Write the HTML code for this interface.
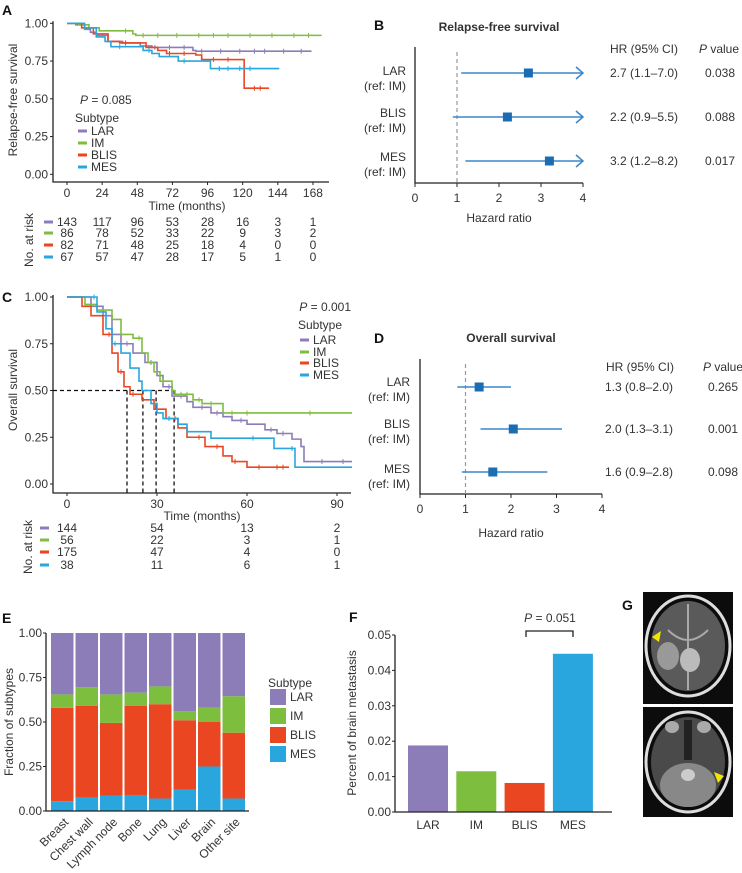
<!DOCTYPE html>
<html><head><meta charset="utf-8">
<style>
body{margin:0;background:#fff}
svg{display:block;font-family:"Liberation Sans",sans-serif;fill:#333}
text{font-size:12px;fill:#333;dominant-baseline:central}
.ttl{font-weight:bold;font-size:12px}
.lbl{font-weight:bold;font-size:14px;fill:#111}
</style></head>
<body>
<svg id="fig" width="742" height="873" viewBox="0 0 742 873" xmlns="http://www.w3.org/2000/svg">
<g id="gA">
<text class="lbl" x="2" y="10">A</text>
<text x="0" y="0" transform="translate(13,100) rotate(-90)" text-anchor="middle">Relapse-free survival</text>
<text x="187" y="206" text-anchor="middle">Time (months)</text>
<text x="0" y="0" transform="translate(29,240) rotate(-90)" text-anchor="middle">No. at risk</text>
<text x="80" y="100"><tspan font-style="italic">P</tspan> = 0.085</text>
<text x="75" y="118">Subtype</text>
</g>
<g id="gB">
<text class="lbl" x="374" y="25">B</text>
<text class="ttl" x="499" y="27" text-anchor="middle">Relapse-free survival</text>
<text x="644" y="49" text-anchor="middle">HR (95% CI)</text>
<text x="719" y="49" text-anchor="middle"><tspan font-style="italic">P</tspan> value</text>
<text x="499" y="218" text-anchor="middle">Hazard ratio</text>
</g>
<g id="gC">
<text class="lbl" x="2" y="297">C</text>
<text x="0" y="0" transform="translate(13,390) rotate(-90)" text-anchor="middle">Overall survival</text>
<text x="202" y="516" text-anchor="middle">Time (months)</text>
<text x="0" y="0" transform="translate(28,547) rotate(-90)" text-anchor="middle">No. at risk</text>
<text x="351" y="307" text-anchor="end"><tspan font-style="italic">P</tspan> = 0.001</text>
<text x="298" y="325">Subtype</text>
</g>
<g id="gD">
<text class="lbl" x="374" y="338">D</text>
<text class="ttl" x="511" y="338" text-anchor="middle">Overall survival</text>
<text x="640" y="367" text-anchor="middle">HR (95% CI)</text>
<text x="723" y="367" text-anchor="middle"><tspan font-style="italic">P</tspan> value</text>
<text x="511" y="533" text-anchor="middle">Hazard ratio</text>
</g>
<g id="gE">
<text class="lbl" x="2" y="618">E</text>
<text x="0" y="0" transform="translate(9,722) rotate(-90)" text-anchor="middle">Fraction of subtypes</text>
<text x="268" y="683" font-size="12.5">Subtype</text>
</g>
<g id="gF">
<text class="lbl" x="349" y="617">F</text>
<text x="0" y="0" transform="translate(352,723) rotate(-90)" text-anchor="middle">Percent of brain metastasis</text>
<text x="550" y="618" text-anchor="middle"><tspan font-style="italic">P</tspan> = 0.051</text>
<path d="M526,637 V631 H573 V637" fill="none" stroke="#222" stroke-width="1.3"/>
</g>
<g id="gG">
<text class="lbl" x="622" y="605">G</text>
<g>
<rect x="643" y="592" width="90" height="112" fill="#0c0c0c"/>
<ellipse cx="688" cy="646" rx="42" ry="50" fill="none" stroke="#ddd" stroke-width="3"/>
<ellipse cx="688" cy="646" rx="37" ry="45" fill="#5a5a5a"/>
<path d="M688,604 V690 M668,630 q20,20 40,0" stroke="#aaa" stroke-width="2" fill="none"/>
<ellipse cx="668" cy="656" rx="11" ry="14" fill="#999"/>
<ellipse cx="690" cy="660" rx="10" ry="12" fill="#bbb"/>
<path d="M652,637 l9,-6 l-2,11 z" fill="#f2e600"/>
</g>
<g>
<rect x="643" y="707" width="90" height="110" fill="#0c0c0c"/>
<ellipse cx="688" cy="762" rx="42" ry="50" fill="none" stroke="#ddd" stroke-width="3"/>
<ellipse cx="688" cy="762" rx="37" ry="45" fill="#4a4a4a"/>
<ellipse cx="688" cy="785" rx="28" ry="22" fill="#888"/>
<ellipse cx="688" cy="775" rx="7" ry="6" fill="#ccc"/>
<path d="M688,720 V760" stroke="#222" stroke-width="8"/>
<ellipse cx="672" cy="727" rx="7" ry="6" fill="#aaa"/>
<ellipse cx="704" cy="727" rx="7" ry="6" fill="#aaa"/>
<path d="M724,776 l-10,-4 l4,11 z" fill="#f2e600"/>
</g>
</g>
</svg>
<script>
const subtypes = ["LAR","IM","BLIS","MES"];
const colors = {LAR:"#8c7db8", IM:"#7dbe3f", BLIS:"#ea4621", MES:"#29a6de"};
// Panel A relapse-free survival [month, survival]
const rfsLAR = [[0,1],[6,0.99],[12,0.96],[16,0.94],[20,0.92],[28,0.88],[38,0.87],[50,0.85],[58,0.84],[86,0.82],[88,0.815]];
const rfsIM = [[0,1],[8,0.99],[15,0.97],[22,0.95],[45,0.93],[47,0.92]];
const rfsBLIS = [[0,1],[10,0.97],[18,0.93],[28,0.88],[36,0.87],[54,0.84],[62,0.82],[68,0.80],[88,0.79],[92,0.76],[121,0.57]];
const rfsMES = [[0,1],[12,0.97],[20,0.91],[26,0.88],[30,0.845],[52,0.82],[58,0.80],[63,0.78],[76,0.75],[98,0.70]];
const rfsEnd = {LAR:167, IM:174, BLIS:138, MES:145};
const rfsCensor = {LAR:[40,60,70,80,92,105,118,128,135,148,160], IM:[40,52,62,75,90,100,110,125,140,155,165], BLIS:[40,70,80,100,110,128,132], MES:[36,56,80,104,110,118,125]};
const rfsTicks = [0,24,48,72,96,120,144,168];
const rfsRisk = {LAR:[143,117,96,53,28,16,3,1], IM:[86,78,52,33,22,9,3,2], BLIS:[82,71,48,25,18,4,0,0], MES:[67,57,47,28,17,5,1,0]};
// Panel C overall survival
const osLAR = [[0,1],[8,0.95],[12,0.9],[15,0.8],[18,0.75],[22,0.7],[26,0.65],[30,0.58],[32,0.52],[35,0.47],[40,0.44],[42,0.41],[48,0.38],[52,0.36],[55,0.34],[60,0.32],[66,0.29],[70,0.27],[75,0.24],[78,0.2],[79,0.12]];
const osIM = [[0,1],[6,0.96],[10,0.93],[15,0.88],[18,0.8],[22,0.78],[25,0.7],[27,0.65],[29,0.6],[31,0.55],[35,0.5],[36,0.48],[42,0.45],[45,0.43],[52,0.38]];
const osBLIS = [[0,1],[5,0.95],[8,0.9],[12,0.8],[15,0.7],[17,0.6],[19,0.52],[21,0.48],[25,0.45],[29,0.4],[33,0.35],[37,0.3],[40,0.25],[46,0.2],[52,0.15],[55,0.12],[60,0.09]];
const osMES = [[0,1],[10,0.92],[13,0.83],[15,0.75],[18,0.7],[21,0.62],[24,0.55],[25,0.5],[28,0.43],[30,0.38],[32,0.35],[37,0.32],[40,0.28],[48,0.245],[69,0.19],[76,0.09]];
const osEnd = {LAR:95, IM:95, BLIS:74, MES:95};
const osCensor = {LAR:[20,28,34,38,45,50,58,68,72,85,92], IM:[24,32,38,40,44,48,55,60,81], BLIS:[14,18,22,30,36,44,50,56,64,70,72], MES:[9,16,34,62,75]};
const osMedians = [20,25.3,29.7,35.7];
const osTicks = [0,30,60,90];
const osRisk = {LAR:[144,54,13,2], IM:[56,22,3,1], BLIS:[175,47,4,0], MES:[38,11,6,1]};
// Panel B / D forest
const forestRows = ["LAR","BLIS","MES"];
const rfsHR = [2.7,2.2,3.2];
const rfsLo = [1.1,0.9,1.2];
const rfsHi = [7.0,5.5,8.2];
const rfsHRtxt = ["2.7 (1.1–7.0)","2.2 (0.9–5.5)","3.2 (1.2–8.2)"];
const rfsP = ["0.038","0.088","0.017"];
const osHR = [1.3,2.05,1.6];
const osLo = [0.82,1.33,0.92];
const osHi = [2.0,3.12,2.8];
const osHRtxt = ["1.3 (0.8–2.0)","2.0 (1.3–3.1)","1.6 (0.9–2.8)"];
const osP = ["0.265","0.001","0.098"];
const hrTicks = [0,1,2,3,4];
// Panel E stacked fractions
const sites = ["Breast","Chest wall","Lymph node","Bone","Lung","Liver","Brain","Other site"];
const fracMES = [0.055,0.075,0.085,0.09,0.07,0.12,0.25,0.07];
const fracBLIS = [0.525,0.515,0.41,0.50,0.53,0.39,0.25,0.37];
const fracIM = [0.075,0.105,0.16,0.075,0.10,0.05,0.08,0.205];
const fracLAR = [0.345,0.305,0.345,0.335,0.30,0.44,0.42,0.355];
const fracTicks = [0,0.25,0.5,0.75,1];
// Panel F
const brainPct = [0.0188,0.0115,0.0082,0.0447];
const brainTicks = [0,0.01,0.02,0.03,0.04,0.05];

const NS="http://www.w3.org/2000/svg";
function mk(tag, attrs, parent){const e=document.createElementNS(NS,tag);for(const k in attrs)e.setAttribute(k,attrs[k]);parent.appendChild(e);return e;}
function txt(s, attrs, parent){const e=mk("text",attrs,parent);e.textContent=s;return e;}
function stepPath(pts,end,xf,yf){let d="M"+xf(pts[0][0])+","+yf(pts[0][1]);for(let i=1;i<pts.length;i++){d+=" H"+xf(pts[i][0])+" V"+yf(pts[i][1]);}d+=" H"+xf(end);return d;}
function sAt(pts,t){let s=pts[0][1];for(const p of pts){if(p[0]<=t)s=p[1];}return s;}

function km(g, cfg){
  const xf=t=>cfg.x0+t*cfg.px, yf=s=>cfg.y0-s*cfg.py;
  const ax=mk("path",{d:`M${cfg.ax},${yf(1)-2} V${cfg.axY} H${cfg.axR}`,fill:"none",stroke:"#222","stroke-width":1.3},g);
  
  
  [0,0.25,0.5,0.75,1].forEach(v=>{
    const tk=mk("line",{x1:cfg.ax-3,x2:cfg.ax,y1:yf(v),y2:yf(v),stroke:"#222"},g);
    
    
    const tl=txt(v.toFixed(2),{x:cfg.ax-5,y:yf(v),"text-anchor":"end"},g);
    
    
  });
  cfg.ticks.forEach(t=>{
    const tk=mk("line",{x1:xf(t),x2:xf(t),y1:cfg.axY,y2:cfg.axY+3,stroke:"#222"},g);
    
    
    const tl=txt(String(t),{x:xf(t),y:cfg.axY+11,"text-anchor":"middle"},g);
    
    
  });
  if(cfg.medians){
    const mx=Math.max(...cfg.medians);
    const h=mk("line",{x1:cfg.ax,x2:xf(mx),y1:yf(0.5),y2:yf(0.5),stroke:"#111","stroke-dasharray":"4,3","stroke-width":1.3},g);
    
    
    cfg.medians.forEach(m=>{
      const v=mk("line",{x1:xf(m),x2:xf(m),y1:yf(0.5),y2:cfg.axY,stroke:"#111","stroke-dasharray":"4,3","stroke-width":1.3},g);
      
      
    });
  }
  subtypes.forEach((st,i)=>{
    const pts=cfg.curves[st];
    const p=mk("path",{d:stepPath(pts,cfg.end[st],xf,yf),fill:"none",stroke:colors[st],"stroke-width":1.6},g);
    
    
    cfg.censor[st].forEach(t=>{
      const c=mk("line",{x1:xf(t),x2:xf(t),y1:yf(sAt(pts,t))-2.5,y2:yf(sAt(pts,t))+2.5,stroke:colors[st],"stroke-width":1},g);
      
      
    });
    const ly=cfg.legY[i];
    const ld=mk("line",{x1:cfg.legX,x2:cfg.legX+9,y1:ly,y2:ly,stroke:colors[st],"stroke-width":3},g);
    
    
    const lt=txt(st,{x:cfg.legX+13,y:ly},g);
    
    
    const ry=cfg.riskY[i];
    const rd=mk("line",{x1:cfg.riskDash[0],x2:cfg.riskDash[1],y1:ry,y2:ry,stroke:colors[st],"stroke-width":3},g);
    
    
    cfg.risk[st].forEach((n,j)=>{
      const rt=txt(String(n),{x:xf(cfg.ticks[j]),y:ry,"text-anchor":"middle"},g);
      
      
    });
  });
}
km(document.getElementById("gA"),{x0:67,px:1.464,y0:174.3,py:151,ax:53,axY:182,axR:329,ticks:rfsTicks,
  curves:{LAR:rfsLAR,IM:rfsIM,BLIS:rfsBLIS,MES:rfsMES},end:rfsEnd,censor:rfsCensor,
  legX:78,legY:[131,143,155,167],riskY:[222,233,245,257],riskDash:[44,53],risk:rfsRisk});
km(document.getElementById("gC"),{x0:67,px:3,y0:484,py:187,ax:53,axY:493,axR:351,ticks:osTicks,
  curves:{LAR:osLAR,IM:osIM,BLIS:osBLIS,MES:osMES},end:osEnd,censor:osCensor,medians:osMedians,
  legX:300,legY:[340,352,363,375],riskY:[528,540,552,565],riskDash:[40,49],risk:osRisk});

function forest(g,cfg){
  const xf=v=>cfg.x0+v*cfg.px;
  const ax=mk("path",{d:`M${cfg.x0},${cfg.top} V${cfg.axY} H${xf(4)}`,fill:"none",stroke:"#222","stroke-width":1.3},g);
  
  
  const ref=mk("line",{x1:xf(1),x2:xf(1),y1:cfg.top+5,y2:cfg.axY,stroke:"#999","stroke-dasharray":"4,3","stroke-width":1.2},g);
  
  
  hrTicks.forEach(t=>{
    const tk=mk("line",{x1:xf(t),x2:xf(t),y1:cfg.axY,y2:cfg.axY+4,stroke:"#222"},g);
    
    
    const tl=txt(String(t),{x:xf(t),y:cfg.axY+15,"text-anchor":"middle"},g);
    
    
  });
  forestRows.forEach((r,i)=>{
    const y=cfg.rowY[i];
    const hi=Math.min(cfg.hi[i],4);
    const ln=mk("line",{x1:xf(cfg.lo[i]),x2:xf(hi),y1:y,y2:y,stroke:"#3a86c8","stroke-width":1.5},g);
    
    
    if(cfg.hi[i]>4){
      const ar=mk("path",{d:`M${xf(4)-7},${y-6} L${xf(4)},${y} L${xf(4)-7},${y+6}`,fill:"none",stroke:"#3a86c8","stroke-width":1.5},g);
      
      
    }
    const sq=mk("rect",{x:xf(cfg.hr[i])-4.5,y:y-4.5,width:9,height:9,fill:"#1c6cb4"},g);
    
    
    const l1=txt(r,{x:cfg.labX,y:cfg.labY[i],"text-anchor":"end"},g);
    
    
    const l2=txt("(ref: IM)",{x:cfg.labX,y:cfg.labY[i]+15,"text-anchor":"end"},g);
    
    
    const h=txt(cfg.hrTxt[i],{x:cfg.hrX,y:y,"text-anchor":"middle"},g);
    
    
    const p=txt(cfg.p[i],{x:cfg.pX,y:y,"text-anchor":"middle"},g);
    
    
  });
}
forest(document.getElementById("gB"),{x0:415,px:42,top:47,axY:183,rowY:[73,117,161],labY:[71,113,157],labX:406,
  hr:rfsHR,lo:rfsLo,hi:rfsHi,hrTxt:rfsHRtxt,p:rfsP,hrX:644,pX:720});
forest(document.getElementById("gD"),{x0:420,px:45.5,top:359,axY:494,rowY:[387,429,472],labY:[382,424,469],labX:410,
  hr:osHR,lo:osLo,hi:osHi,hrTxt:osHRtxt,p:osP,hrX:639,pX:723});

(function(){
  const g=document.getElementById("gE");
  const y0=811, py=178, bx0=51, pitch=24.5, bw=22.5;
  const yf=v=>y0-v*py;
  const layers=[["MES",fracMES],["BLIS",fracBLIS],["IM",fracIM],["LAR",fracLAR]];
  sites.forEach((s,i)=>{
    let acc=0;
    const x=bx0+i*pitch;
    layers.forEach(([st,arr])=>{
      const v=arr[i];
      const r=mk("rect",{x:x,y:yf(acc+v),width:bw,height:v*py,fill:colors[st]},g);
      
      
      acc+=v;
    });
    const tl=txt(s,{x:0,y:0,"text-anchor":"end",transform:`translate(${x+bw/2+4},${y0+9}) rotate(-45)`},g);
    
    
  });
  const ax=mk("path",{d:`M46,${yf(1)} V${y0} H249`,fill:"none",stroke:"#222","stroke-width":1.3},g);
  
  
  fracTicks.forEach(v=>{
    const tk=mk("line",{x1:43,x2:46,y1:yf(v),y2:yf(v),stroke:"#222"},g);
    
    
    const tl=txt(v.toFixed(2),{x:42,y:yf(v),"text-anchor":"end"},g);
    
    
  });
  subtypes.forEach((st,i)=>{
    const y=697+i*19;
    const b=mk("rect",{x:270,y:y-8,width:16,height:16,fill:colors[st]},g);
    
    
    const t=txt(st,{x:290,y:y},g);
    
    
  });
})();

(function(){
  const g=document.getElementById("gF");
  const y0=812, py=177/0.05, bx0=408, pitch=48.3, bw=40;
  const yf=v=>y0-v*py;
  subtypes.forEach((st,i)=>{
    const x=bx0+i*pitch;
    const r=mk("rect",{x:x,y:yf(brainPct[i]),width:bw,height:brainPct[i]*py,fill:colors[st]},g);
    
    
    const t=txt(st,{x:x+bw/2,y:825,"text-anchor":"middle"},g);
    
    
  });
  const ax=mk("path",{d:`M395,${yf(0.05)} V${y0} H612`,fill:"none",stroke:"#222","stroke-width":1.3},g);
  
  
  brainTicks.forEach(v=>{
    const tk=mk("line",{x1:392,x2:395,y1:yf(v),y2:yf(v),stroke:"#222"},g);
    
    
    const tl=txt(v.toFixed(2),{x:391,y:yf(v),"text-anchor":"end"},g);
    
    
  });
})();
</script>
</body></html>
